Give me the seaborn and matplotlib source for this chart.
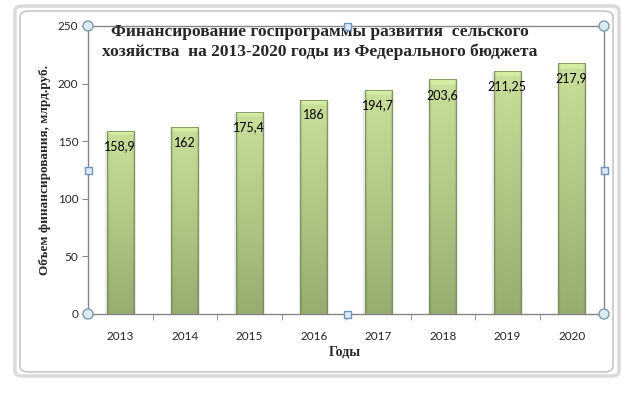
import numpy as np
import pandas as pd
import matplotlib
matplotlib.use("Agg")
import matplotlib.pyplot as plt
import seaborn as sns
from matplotlib.patches import FancyBboxPatch, Ellipse, Rectangle

years = ["2013", "2014", "2015", "2016", "2017", "2018", "2019", "2020"]
values = [158.9, 162, 175.4, 186, 194.7, 203.6, 211.25, 217.9]
value_labels = ["158,9", "162", "175,4", "186", "194,7", "203,6", "211,25", "217,9"]
y_ticks = [0, 50, 100, 150, 200, 250]
title = "Финансирование госпрограммы развития  сельского\nхозяйства  на 2013-2020 годы из Федерального бюджета"
y_label = "Объем финансирования, млрд.руб."
x_label = "Годы"

sns.set_style("white")
plt.rcParams["font.family"] = ["Lato", "DejaVu Sans"]

W, H = 636, 395
fig = plt.figure(figsize=(W / 100, H / 100), dpi=100)

# outer chart frame (rounded, double grey line)
fig.patches.append(FancyBboxPatch((15 / W, (H - 376) / H), (619 - 15) / W, (376 - 6) / H,
                                  boxstyle="round,pad=0,rounding_size=0.012",
                                  transform=fig.transFigure, fc="white", ec="#dadada", lw=2.5,
                                  zorder=-10))
fig.patches.append(FancyBboxPatch((20 / W, (H - 372) / H), (613 - 20) / W, (372 - 11) / H,
                                  boxstyle="round,pad=0,rounding_size=0.015",
                                  transform=fig.transFigure, fc="white", ec="#bdbdbd", lw=1.0,
                                  zorder=-9))

L, R, T, B = 88, 604, 26, 314
ax = fig.add_axes([L / W, (H - B) / H, (R - L) / W, (B - T) / H])
ax.set_zorder(1)
ax.set_facecolor("none")

df = pd.DataFrame({"year": years, "value": values})
sns.barplot(data=df, x="year", y="value", ax=ax, width=0.42, color="#a9c07f",
            edgecolor="#7d8f5a", linewidth=0.6, saturation=1)

# gradient fill for each bar
top_c = np.array([0.79, 0.88, 0.61])
bot_c = np.array([0.59, 0.68, 0.44])
ny, nx = 120, 60
tt = np.linspace(0, 1, ny)[:, None]
uu = np.linspace(0, 1, nx)[None, :]
bars = list(ax.patches)
for p in bars:
    x0, y0 = p.get_x(), p.get_y()
    w, h = p.get_width(), p.get_height()
    base = bot_c[None, None, :] * (1 - tt[..., None]) + top_c[None, None, :] * tt[..., None]
    edge = np.abs(2 * uu - 1)
    shade = 1 - 0.20 * np.clip((edge - 0.82) / 0.18, 0, 1) ** 1.2
    img = base * shade[..., None]
    bev = (np.linspace(0, 1, ny) > 0.975)[:, None]
    img = np.where(bev[..., None], np.minimum(img * 1.06, 1), img)
    img = np.clip(img, 0, 1)
    # soft grey shadow around the bar
    ax.add_patch(Rectangle((x0 - 0.02, y0), w + 0.05, h - 0.8, fc="#000000", alpha=0.09,
                           ec="none", zorder=1.5))
    im = ax.imshow(img, extent=(x0, x0 + w, y0, y0 + h), origin="lower", aspect="auto", zorder=2,
                   interpolation="bilinear")
    im.set_clip_path(p)
    p.set_zorder(2.1)
    p.set_facecolor("none")

ax.set_xlim(-0.5, len(years) - 0.5)
ax.set_ylim(0, 250)
ax.set_yticks(y_ticks)

for i, (v, lab) in enumerate(zip(values, value_labels)):
    ax.annotate(lab, (i, v), xytext=(0, -11), textcoords="offset points",
                ha="center", va="center", fontsize=9, color="black", zorder=5)

axis_c = "#868686"
for s in ax.spines.values():
    s.set_visible(True)
    s.set_color(axis_c)
    s.set_linewidth(1.0)

ax.tick_params(axis="y", left=True, length=4, color=axis_c, labelsize=8.5, pad=3)
ax.set_xticks(np.arange(len(years)))
ax.set_xticklabels(years)
ax.set_xticks(np.arange(len(years) - 1) + 0.5, minor=True)
ax.tick_params(axis="x", which="major", bottom=False, labelsize=8.5, pad=9)
ax.tick_params(axis="x", which="minor", bottom=True, length=4, color=axis_c)
ax.set_xlabel("")
ax.set_ylabel("")

fig.text(320 / W, 1 - 42 / H, title, ha="center", va="center", fontsize=12.5,
         fontweight="bold", family=["Liberation Serif", "DejaVu Serif"], linespacing=1.2)
fig.text(45 / W, 1 - 170 / H, y_label, ha="center", va="center", rotation=90, fontsize=9.5,
         fontweight="bold", family=["Liberation Serif", "DejaVu Serif"])
fig.text(345 / W, 1 - 352 / H, x_label, ha="center", va="center", fontsize=10,
         fontweight="bold", family=["Liberation Serif", "DejaVu Serif"])

# selection handles
def circ(px, py):
    fig.patches.append(Ellipse((px / W, 1 - py / H), 10 / W, 10 / H, transform=fig.transFigure,
                               fc="#dcecf2", ec="#7f9aaf", lw=1.0, zorder=10))

def sq(px, py):
    fig.patches.append(Rectangle(((px - 3.5) / W, 1 - (py + 3.5) / H), 7 / W, 7 / H,
                                 transform=fig.transFigure, fc="#dfe9f5", ec="#6f93bd",
                                 lw=1.0, zorder=10))

for px, py in [(L, T), (R, T), (L, B), (R, B)]:
    circ(px, py)
for px, py in [((L + R) / 2 + 1, T), ((L + R) / 2 + 1, B), (L, 170), (R, 170)]:
    sq(px, py)

fig.savefig("out.png", dpi=100)
